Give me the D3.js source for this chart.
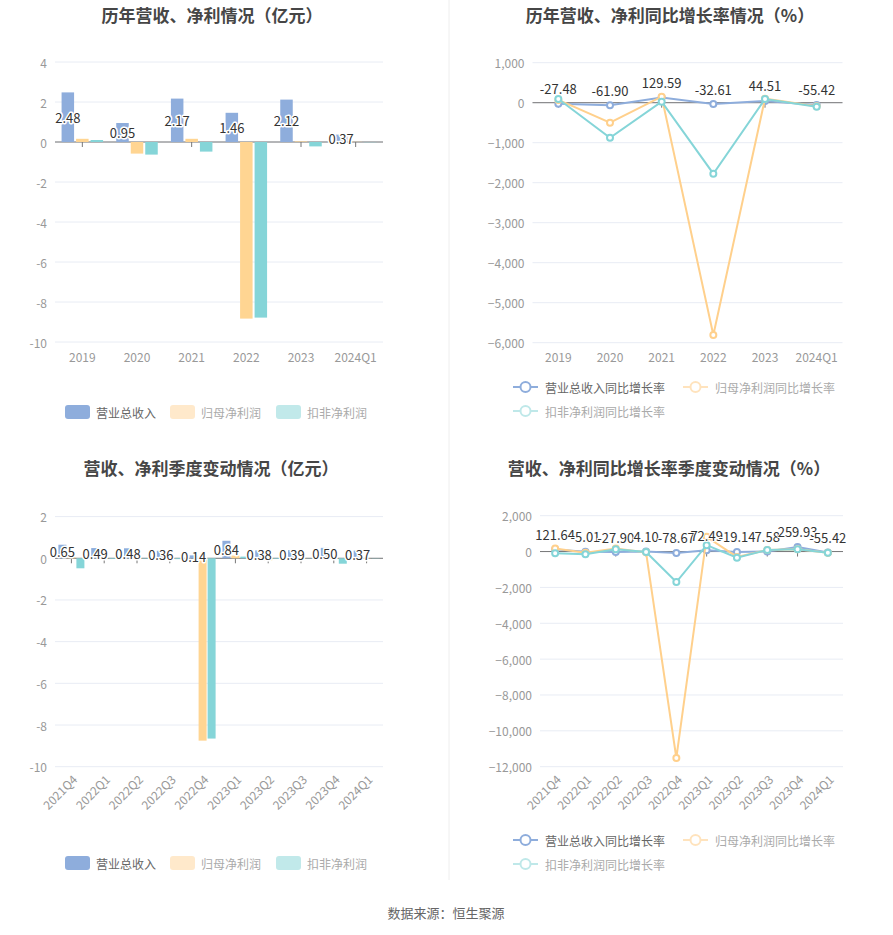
<!DOCTYPE html>
<html>
<head>
<meta charset="utf-8">
<script src="https://cdn.jsdelivr.net/npm/d3@7"></script>
<style>
  body { margin: 0; background: #fff; }
  svg { display: block; font-family: "Noto Sans CJK SC", "Noto Sans", sans-serif; }
</style>
</head>
<body>
<svg id="chart" width="893" height="935"></svg>
<script>
// 年度数据
const years = ["2019", "2020", "2021", "2022", "2023", "2024Q1"]
const revenueAnnual = [2.48, 0.95, 2.17, 1.46, 2.12, 0.37]
const netProfitAnnual = [0.16, -0.58, 0.16, -8.83, 0.03, 0.01]
const deductedAnnual = [0.10, -0.63, -0.48, -8.78, -0.22, -0.01]

const revenueYoyAnnual = [-27.48, -61.90, 129.59, -32.61, 44.51, -55.42]
const netProfitYoyAnnual = [70, -500, 150, -5808, 100, -90]
const deductedYoyAnnual = [92, -875, 25, -1775, 92, -100]

// 季度数据
const quarters = ["2021Q4", "2022Q1", "2022Q2", "2022Q3", "2022Q4", "2023Q1", "2023Q2", "2023Q3", "2023Q4", "2024Q1"]
const revenueQ = [0.65, 0.49, 0.48, 0.36, 0.14, 0.84, 0.38, 0.39, 0.50, 0.37]
const netProfitQ = [0.05, -0.02, -0.03, -0.03, -8.75, 0.13, -0.10, 0.02, -0.02, 0.01]
const deductedQ = [-0.48, -0.03, -0.02, -0.04, -8.65, 0.08, -0.03, -0.01, -0.26, -0.01]

const revenueYoyQ = [121.64, -5.01, -27.90, 4.10, -78.67, 72.49, -19.14, 7.58, 259.93, -55.42]
const netProfitYoyQ = [170, -60, 170, -40, -11514, 820, -300, 90, 130, -60]
const deductedYoyQ = [-90, -150, 130, -20, -1700, 355, -340, 90, 130, -60]

const barNames = ["营业总收入", "归母净利润", "扣非净利润"]
const lineNames = ["营业总收入同比增长率", "归母净利润同比增长率", "扣非净利润同比增长率"]

const colors = ["#8eaddc", "#ffd592", "#85d5d8"]
const lineColors = ["#8eaddc", "#ffd08c", "#85d5d8"]
const legendBarColors = ["#8eaddc", "#ffe9cb", "#c1e9ea"]
const legendLineColors = ["#8eaddc", "#ffe3bd", "#bfe8e9"]
const legendTextColors = ["#666", "#aaa", "#aaa"]

const svg = d3.select("#chart")
const fmt = d3.format(",")

// 分隔线
svg.append("line")
  .attr("x1", 449).attr("x2", 449).attr("y1", 0).attr("y2", 880)
  .attr("stroke", "#eeeeee")

function title(x, y, text) {
  svg.append("text")
    .attr("x", x).attr("y", y)
    .attr("text-anchor", "middle")
    .attr("dominant-baseline", "central")
    .attr("font-size", 17).attr("font-weight", "bold")
    .attr("fill", "#464646")
    .text(text)
}

function drawAxes(g, x, y, ticks, rotate, yfmt) {
  const [x0, x1] = x.range()
  const [yb, yt] = y.range()

  // 网格线
  g.append("g").selectAll("line")
    .data(ticks)
    .join("line")
    .attr("x1", x0).attr("x2", x1)
    .attr("y1", d => y(d)).attr("y2", d => y(d))
    .attr("stroke", "#e8ecf4")

  // y轴文字
  g.append("g").selectAll("text")
    .data(ticks)
    .join("text")
    .attr("x", x0 - 8)
    .attr("y", d => y(d))
    .attr("text-anchor", "end")
    .attr("dominant-baseline", "central")
    .attr("font-size", 12)
    .attr("fill", "#999")
    .text(d => yfmt(d))

  // 零轴
  g.append("line")
    .attr("x1", x0).attr("x2", x1)
    .attr("y1", y(0)).attr("y2", y(0))
    .attr("stroke", "#777")

  g.append("g").selectAll("line")
    .data(x.domain())
    .join("line")
    .attr("x1", d => x(d) + x.bandwidth() / 2)
    .attr("x2", d => x(d) + x.bandwidth() / 2)
    .attr("y1", y(0)).attr("y2", y(0) + 5)
    .attr("stroke", "#777")

  // x轴文字
  const labels = g.append("g").selectAll("text")
    .data(x.domain())
    .join("text")
    .attr("font-size", 12)
    .attr("fill", "#999")
    .text(d => d)

  if (rotate) {
    labels
      .attr("text-anchor", "end")
      .attr("dominant-baseline", "central")
      .attr("transform", d => `translate(${x(d) + x.bandwidth() / 2 + 3},${yb + 10}) rotate(-45)`)
  } else {
    labels
      .attr("text-anchor", "middle")
      .attr("dominant-baseline", "central")
      .attr("x", d => x(d) + x.bandwidth() / 2)
      .attr("y", yb + 14)
  }
}

function barChart(cats, series, xr, yr, ydom, step, barW, gap, rotate) {
  const g = svg.append("g")
  const x = d3.scaleBand().domain(cats).range(xr)
  const y = d3.scaleLinear().domain(ydom).range(yr)
  const ticks = d3.range(ydom[0], ydom[1] + step / 2, step)
  drawAxes(g, x, y, ticks, rotate, d => d)

  series.forEach((vals, si) => {
    const off = (si - 1) * (barW + gap) - barW / 2
    g.append("g").selectAll("rect")
      .data(vals)
      .join("rect")
      .attr("x", (d, i) => x(cats[i]) + x.bandwidth() / 2 + off)
      .attr("width", barW)
      .attr("y", d => Math.min(y(d), y(0)))
      .attr("height", d => Math.abs(y(d) - y(0)))
      .attr("fill", colors[si])
  })

  // 营业总收入标签
  g.append("g").selectAll("text")
    .data(series[0])
    .join("text")
    .attr("x", (d, i) => x(cats[i]) + x.bandwidth() / 2 - (barW + gap))
    .attr("y", d => (y(d) + y(0)) / 2)
    .attr("text-anchor", "middle")
    .attr("dominant-baseline", "central")
    .attr("font-size", 13)
    .attr("fill", "#333")
    .attr("stroke", "#fff").attr("stroke-width", 3)
    .attr("stroke-linejoin", "round").attr("paint-order", "stroke")
    .text(d => d.toFixed(2))
}

function lineChart(cats, series, xr, yr, ydom, step, rotate) {
  const g = svg.append("g")
  const x = d3.scaleBand().domain(cats).range(xr)
  const y = d3.scaleLinear().domain(ydom).range(yr)
  const ticks = d3.range(ydom[0], ydom[1] + step / 2, step)
  drawAxes(g, x, y, ticks, rotate, d => fmt(d))

  const cx = i => x(cats[i]) + x.bandwidth() / 2
  const line = d3.line().x((d, i) => cx(i)).y(d => y(d))

  series.forEach((vals, si) => {
    g.append("path")
      .datum(vals)
      .attr("d", line)
      .attr("fill", "none")
      .attr("stroke", lineColors[si])
      .attr("stroke-width", 2)
    g.append("g").selectAll("circle")
      .data(vals)
      .join("circle")
      .attr("cx", (d, i) => cx(i))
      .attr("cy", d => y(d))
      .attr("r", 3)
      .attr("fill", "#fff")
      .attr("stroke", lineColors[si])
      .attr("stroke-width", 2)
  })

  g.append("g").selectAll("text")
    .data(series[0])
    .join("text")
    .attr("x", (d, i) => cx(i))
    .attr("y", d => y(d) - 15)
    .attr("text-anchor", "middle")
    .attr("dominant-baseline", "central")
    .attr("font-size", 13)
    .attr("fill", "#333")
    .attr("stroke", "#fff").attr("stroke-width", 2)
    .attr("stroke-linejoin", "round").attr("paint-order", "stroke")
    .text(d => d.toFixed(2))
}

function barLegend(y) {
  const xs = [65, 170, 276]
  barNames.forEach((name, i) => {
    svg.append("rect")
      .attr("x", xs[i]).attr("y", y - 7)
      .attr("width", 25).attr("height", 14)
      .attr("rx", 3)
      .attr("fill", legendBarColors[i])
    svg.append("text")
      .attr("x", xs[i] + 31).attr("y", y)
      .attr("dominant-baseline", "central")
      .attr("font-size", 12)
      .attr("fill", legendTextColors[i])
      .text(name)
  })
}

function lineLegend(y1, y2) {
  const pos = [[513, y1], [683, y1], [513, y2]]
  lineNames.forEach((name, i) => {
    const [px, py] = pos[i]
    svg.append("line")
      .attr("x1", px).attr("x2", px + 25)
      .attr("y1", py).attr("y2", py)
      .attr("stroke", legendLineColors[i]).attr("stroke-width", 2)
    svg.append("circle")
      .attr("cx", px + 12.5).attr("cy", py).attr("r", 5)
      .attr("fill", "#fff")
      .attr("stroke", legendLineColors[i]).attr("stroke-width", 2)
    svg.append("text")
      .attr("x", px + 32).attr("y", py)
      .attr("dominant-baseline", "central")
      .attr("font-size", 12)
      .attr("fill", legendTextColors[i])
      .text(name)
  })
}

title(212, 14, "历年营收、净利情况（亿元）")
title(670, 14, "历年营收、净利同比增长率情况（%）")
title(211, 467, "营收、净利季度变动情况（亿元）")
title(669, 467, "营收、净利同比增长率季度变动情况（%）")

barChart(years, [revenueAnnual, netProfitAnnual, deductedAnnual],
  [55, 383], [342, 62], [-10, 4], 2, 12.5, 2, false)
lineChart(years, [revenueYoyAnnual, netProfitYoyAnnual, deductedYoyAnnual],
  [532.5, 842.5], [342.7, 62.7], [-6000, 1000], 1000, false)
barChart(quarters, [revenueQ, netProfitQ, deductedQ],
  [55, 383], [766.7, 516.6], [-10, 2], 2, 8, 1, true)
lineChart(quarters, [revenueYoyQ, netProfitYoyQ, deductedYoyQ],
  [540, 843], [766.7, 515.7], [-12000, 2000], 2000, true)

barLegend(412)
lineLegend(387, 411)
barLegend(863)
lineLegend(840, 864)

svg.append("text")
  .attr("x", 446).attr("y", 912)
  .attr("text-anchor", "middle")
  .attr("dominant-baseline", "central")
  .attr("font-size", 13)
  .attr("fill", "#666")
  .text("数据来源：恒生聚源")
</script>
</body>
</html>
